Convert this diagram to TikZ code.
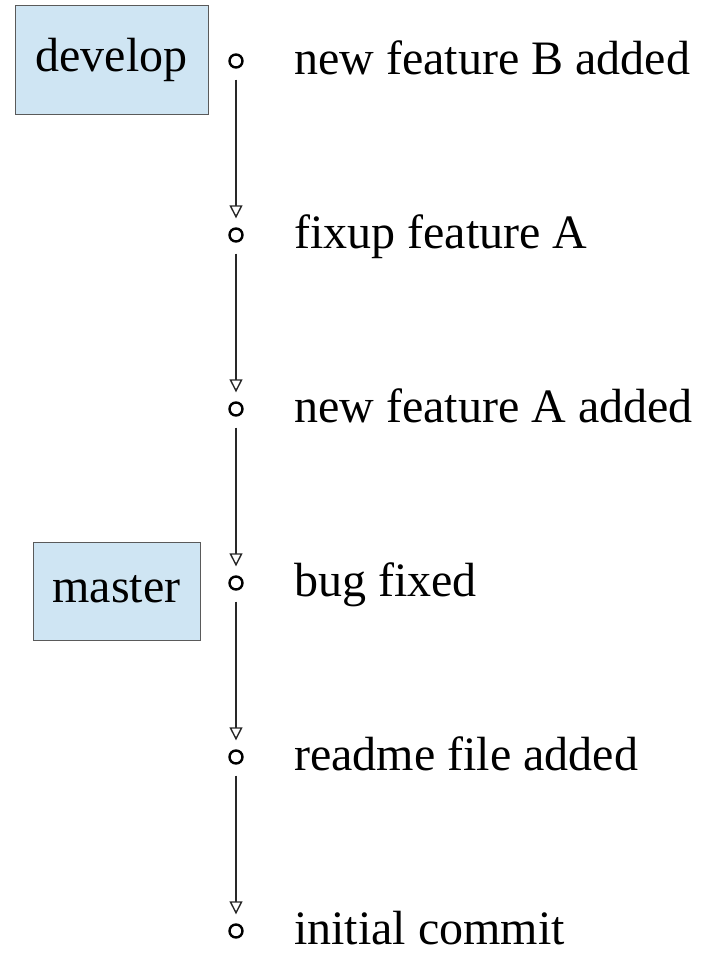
\documentclass[tikz,border=0pt]{standalone}
\usepackage{fontspec}
\setmainfont{Liberation Serif}
\usetikzlibrary{arrows.meta}
\definecolor{boxfill}{RGB}{207,229,243}
\definecolor{boxline}{RGB}{90,90,90}
\definecolor{linecol}{RGB}{40,40,40}
\begin{document}
\begin{tikzpicture}[x=1pt,y=-1pt,
  every node/.style={font=\fontsize{48}{56}\selectfont},
  commit/.style={circle,draw=black,line width=2.4pt,minimum size=13pt,inner sep=0pt},
  msg/.style={anchor=base west,inner sep=0pt},
  branchbox/.style={rectangle,draw=boxline,line width=1pt,fill=boxfill,inner sep=0pt,text height=33pt,text depth=10pt},
  link/.style={draw=linecol,line width=1.3pt,-{Triangle[open,length=13pt,width=13pt,line width=1.4pt]},shorten <=11pt,shorten >=9pt}]
\useasboundingbox (0,0) rectangle (710,953);
\fill[white] (0,0) rectangle (710,953);
% commits
\node[commit] (c1) at (236,61) {};
\node[commit] (c2) at (236,235) {};
\node[commit] (c3) at (236,409) {};
\node[commit] (c4) at (236,583) {};
\node[commit] (c5) at (236,757) {};
\node[commit] (c6) at (236,931) {};
% messages
\node[msg] (m1) at (294,74) {new feature B added};
\node[msg] (m2) at (294,248) {fixup feature A};
\node[msg] (m3) at (294,422) {new feature A added};
\node[msg] (m4) at (294,596) {bug fixed};
\node[msg] (m5) at (294,770) {readme file added};
\node[msg] (m6) at (294,944) {initial commit};
% branches
\node[branchbox,minimum width=193pt,minimum height=109pt] (develop) at (111.5,60) {develop};
\node[branchbox,minimum width=167pt,minimum height=98pt] (master) at (116.5,591) {master};
% links
\draw[link] (c1) -- (c2);
\draw[link] (c2) -- (c3);
\draw[link] (c3) -- (c4);
\draw[link] (c4) -- (c5);
\draw[link] (c5) -- (c6);
\end{tikzpicture}
\end{document}
